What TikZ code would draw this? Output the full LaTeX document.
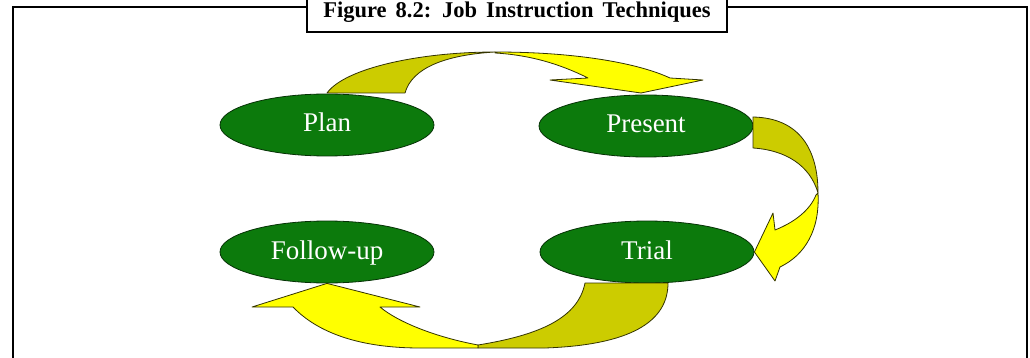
\documentclass[tikz,border=0pt]{standalone}
\usepackage{fontspec}
\setmainfont{Liberation Serif}
\usetikzlibrary{shapes.geometric}
\definecolor{stagegreen}{RGB}{12,122,12}
\definecolor{tailyellow}{RGB}{204,204,0}
\definecolor{headyellow}{RGB}{255,255,0}
\begin{document}
\begin{tikzpicture}[x=1pt,y=-1pt,
  stage/.style={ellipse, draw=black!60!stagegreen, line width=0.8pt, fill=stagegreen,
    text=white, minimum width=214pt, minimum height=62pt, inner sep=0pt,
    font=\fontsize{27}{32}\selectfont, text height=18pt, text depth=4pt},
  tailpart/.style={fill=tailyellow, draw=black!75!tailyellow, line width=0.8pt, line join=round},
  headpart/.style={fill=headyellow, draw=black!75!tailyellow, line width=0.8pt, line join=round},
  frameline/.style={line width=2pt, black},
  titlebox/.style={rectangle, draw=black, line width=2pt, fill=white,
    minimum width=420pt, minimum height=39pt, inner sep=0pt,
    font=\bfseries\fontsize{22.5}{27}\selectfont, text height=15pt, text depth=5pt},
]
\useasboundingbox (0,0) rectangle (1030,358);
\draw[frameline] (13,358) -- (13,7) -- (1027,7) -- (1027,358);
\node[titlebox] (title) at (517,12.5) {\spaceskip=9pt plus 1pt Figure 8.2: Job Instruction Techniques};

\node[stage] (plan) at (327,125) {Plan};
\node[stage] (present) at (646,126) {Present};
\node[stage] (follow) at (327,252) {Follow-up};
\node[stage] (trial) at (647,252) {Trial};

% Plan -> Present
\draw[tailpart] (327,93) .. controls (345,68) and (420,52) .. (495,52)
  .. controls (445,55) and (412,68) .. (405,93) -- cycle;
\draw[headpart] (495,52) .. controls (580,52) and (640,64) .. (670,78) -- (703,80)
  -- (641,93) -- (550,80) -- (588,78) .. controls (560,64) and (530,55) .. (495,53) -- cycle;

% Present -> Trial
\draw[tailpart] (753,117) .. controls (800,118) and (818,150) .. (818,193)
  .. controls (810,165) and (785,150) .. (753,148) -- cycle;
\draw[headpart] (818,193) .. controls (820,230) and (805,255) .. (780,267) -- (775,281)
  -- (trial.east) -- (773,213) -- (775,230) .. controls (795,222) and (810,210) .. (816,195) -- cycle;

% Trial -> Follow-up
\draw[tailpart] (478,345) .. controls (540,335) and (578,318) .. (585,283) -- (668,283)
  .. controls (668,322) and (630,345) .. (545,348) -- (478,348) -- cycle;
\draw[headpart] (478,345) .. controls (435,337) and (398,322) .. (380,307) -- (420,307)
  -- (follow.south) -- (252,307) -- (293,307) .. controls (318,333) and (360,348) .. (420,348)
  -- (478,348) -- cycle;
\end{tikzpicture}
\end{document}
